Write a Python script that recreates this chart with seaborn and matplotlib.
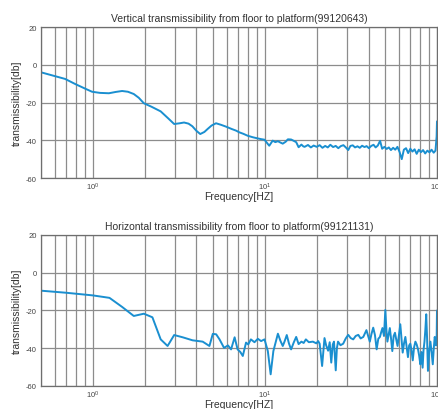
import matplotlib
matplotlib.use("Agg")
import matplotlib.pyplot as plt
import seaborn as sns
import pandas as pd
from matplotlib.ticker import LogLocator, NullFormatter, FixedLocator

# ---- data ----
freq_vert = [0.5, 0.59, 0.69, 0.79, 0.9, 0.99, 1.1, 1.24, 1.36, 1.48, 1.6, 1.73, 1.85, 1.98,
             2.2, 2.48, 2.75, 2.97, 3.2, 3.39, 3.6, 3.79, 4.0, 4.21, 4.45, 4.65, 4.9, 5.2,
             5.55, 5.95, 6.4, 6.8, 7.1, 7.5, 7.94, 8.5, 9.06, 9.5, 9.95,
             10.3, 10.6, 11.1, 11.5, 11.9, 12.3, 12.7, 13.2, 13.6, 14.2, 14.7, 15.2, 15.7,
             16.3, 16.7, 17.0, 17.8, 18.5, 19.2, 20.0, 20.8, 21.6, 22.4, 23.2, 24.0, 24.9,
             25.8, 26.7, 27.6, 28.6, 29.6, 30.5, 31.4, 32.4, 33.4, 34.5, 35.6, 36.7, 37.9,
             39.0, 40.2, 41.5, 42.8, 44.0, 45.3, 46.7, 48.0, 49.5, 51.0, 52.5, 54.0, 55.6,
             57.2, 58.9, 60.6, 62.4, 64.2, 66.1, 68.0, 70.0, 72.0, 74.1, 76.2, 78.4, 80.7,
             83.0, 85.4, 87.9, 90.4, 93.0, 95.7, 98.0, 99.5, 100.0]
db_vert = [-4.0, -5.8, -7.5, -10.2, -12.6, -14.3, -14.9, -15.1, -14.4, -13.9, -14.3, -15.5, -17.5, -20.4,
           -22.3, -24.7, -28.5, -31.4, -31.0, -30.6, -31.2, -32.6, -35.0, -36.7, -35.6, -34.0, -32.2, -31.0,
           -31.8, -32.8, -34.0, -34.9, -35.8, -36.6, -37.6, -38.4, -39.0, -39.4, -39.7,
           -41.5, -42.9, -40.2, -41.0, -40.5, -41.2, -41.8, -40.8, -39.5, -39.6, -40.3, -41.0, -43.7,
           -42.3, -43.2, -43.5, -42.5, -43.8, -42.8, -43.5, -42.6, -44.0, -43.0, -43.8, -42.4, -43.6,
           -43.0, -44.2, -43.1, -42.6, -43.9, -45.2, -43.0, -42.7, -43.8, -43.2, -44.0, -42.9, -43.6,
           -43.1, -44.2, -43.0, -42.4, -43.8, -42.8, -40.3, -44.5, -43.5, -44.6, -43.8, -45.2, -44.0,
           -45.0, -43.5, -46.2, -50.0, -45.0, -44.2, -46.8, -44.5, -46.0, -44.8, -47.2, -45.0, -46.3,
           -45.2, -47.0, -45.5, -46.4, -45.0, -46.6, -45.5, -38.0, -30.0]

freq_horiz = [0.5, 0.7, 1.0, 1.25, 1.48, 1.73, 1.98, 2.22, 2.48, 2.72, 2.97, 3.33, 3.8, 4.35,
              4.76, 4.98, 5.21, 5.45, 5.79, 6.1, 6.36, 6.67, 6.94, 7.2, 7.44, 7.77, 8.0, 8.29,
              8.7, 9.1, 9.5, 9.95, 10.4, 10.8, 11.2, 11.9, 12.3, 12.7, 13.0, 13.4, 13.8, 14.2,
              14.7, 15.2, 15.7, 16.3, 16.8, 17.3, 18.0, 19.0, 19.9, 20.4, 20.8, 21.5, 22.2,
              22.7, 23.3, 23.8, 24.3, 24.8, 25.2, 25.8, 26.2, 26.6, 27.5, 28.5, 29.5, 30.5,
              31.5, 32.6, 33.7, 34.9, 36.0, 37.3, 38.9, 39.8, 40.7, 41.6, 42.6, 43.6, 44.6,
              45.6, 46.6, 47.4, 48.2, 49.2, 50.1, 50.8, 51.5, 52.3, 53.2, 54.1, 55.0, 56.0,
              57.0, 58.0, 59.0, 60.1, 61.2, 62.2, 63.2, 64.3, 65.5, 66.6, 67.8, 68.9, 70.0,
              71.1, 72.3, 73.6, 74.9, 76.2, 77.6, 78.8, 80.0, 81.2, 82.5, 83.5, 84.6, 85.6,
              86.6, 87.6, 88.6, 90.0, 91.6, 93.0, 94.5, 95.8, 97.0, 98.0, 98.8, 99.6, 100.0]
db_horiz = [-9.5, -10.6, -12.0, -13.3, -18.1, -22.9, -21.7, -23.6, -35.3, -38.8, -33.0, -34.2, -35.8, -36.5,
            -38.8, -32.4, -32.6, -35.3, -39.8, -38.5, -40.6, -34.2, -40.6, -42.0, -44.1, -37.0, -38.0, -35.3,
            -36.8, -35.0, -36.2, -35.3, -41.5, -53.8, -41.5, -32.3, -36.0, -38.8, -36.5, -33.0, -37.5, -40.6,
            -37.0, -34.0, -37.8, -36.5, -37.2, -35.3, -36.8, -36.5, -37.4, -36.2, -37.6, -49.4, -34.6,
            -38.5, -41.3, -36.8, -47.6, -38.0, -36.5, -51.7, -40.0, -36.5, -38.4, -37.6, -34.8, -32.9,
            -34.6, -35.3, -33.5, -32.9, -34.8, -34.0, -30.4, -33.5, -36.5, -32.5, -29.1, -33.0, -40.6,
            -35.0, -34.0, -31.5, -29.3, -33.5, -19.7, -30.0, -36.5, -33.0, -29.3, -35.0, -41.5, -33.5,
            -31.8, -35.5, -38.8, -33.0, -27.3, -35.0, -42.3, -37.5, -34.0, -39.0, -44.7, -38.5, -37.6,
            -41.0, -46.4, -39.5, -36.5, -38.0, -40.6, -44.0, -48.5, -42.0, -50.3, -41.0, -36.5, -30.0,
            -22.0, -35.0, -52.0, -42.0, -36.5, -42.0, -48.5, -40.0, -34.0, -36.0, -38.5, -33.0, -20.0]

titles = ["Vertical transmissibility from floor to platform(99120643)",
          "Horizontal transmissibility from floor to platform(99121131)"]
y_ticks = [-60, -40, -20, 0, 20]
x_label = "Frequency[HZ]"
y_label = "transmissibility[db]"

# ---- style ----
sns.set_style("white")
plt.rcParams['font.family'] = ['Liberation Sans', 'DejaVu Sans']
plt.rcParams['mathtext.fontset'] = 'custom'
plt.rcParams['mathtext.rm'] = 'Liberation Sans'
plt.rcParams['axes.unicode_minus'] = False

line_color = "#1a8fd0"
grid_color = "#8c8c8c"

fig = plt.figure(figsize=(4.38, 4.10), dpi=100)
ax1 = fig.add_axes([0.0936, 0.5634, 0.9041, 0.3683])
ax2 = fig.add_axes([0.0936, 0.0561, 0.9041, 0.3683])

series = [(freq_vert, db_vert), (freq_horiz, db_horiz)]
for ax, (f, d), title in zip([ax1, ax2], series, titles):
    df = pd.DataFrame({"freq": f, "db": d})
    sns.lineplot(data=df, x="freq", y="db", ax=ax, color=line_color, lw=1.4,
                 sort=False, estimator=None)
    ax.set_xscale("log")
    ax.set_xlim(0.5, 100)
    ax.set_ylim(-60, 20)
    ax.yaxis.set_major_locator(FixedLocator(y_ticks))
    ax.xaxis.set_major_locator(LogLocator(base=10, numticks=10))
    ax.xaxis.set_minor_locator(LogLocator(base=10, subs=range(2, 10), numticks=20))
    ax.xaxis.set_minor_formatter(NullFormatter())
    ax.grid(True, which="both", axis="x", color=grid_color, lw=0.9)
    ax.grid(True, which="major", axis="y", color=grid_color, lw=0.9)
    ax.set_axisbelow(True)
    for s in ax.spines.values():
        s.set_color("#6e6e6e")
        s.set_linewidth(0.9)
    ax.tick_params(axis="both", which="both", length=0, labelsize=5.5,
                   labelcolor="#444444", pad=3)
    ax.tick_params(axis="x", pad=2)
    ax.set_title(title, fontsize=7.5, color="#333333", pad=4)
    ax.set_xlabel(x_label, fontsize=7.5, color="#333333", labelpad=-1)
    ax.set_ylabel(y_label, fontsize=7.5, color="#333333", labelpad=3)

fig.savefig("out.png", dpi=100)
